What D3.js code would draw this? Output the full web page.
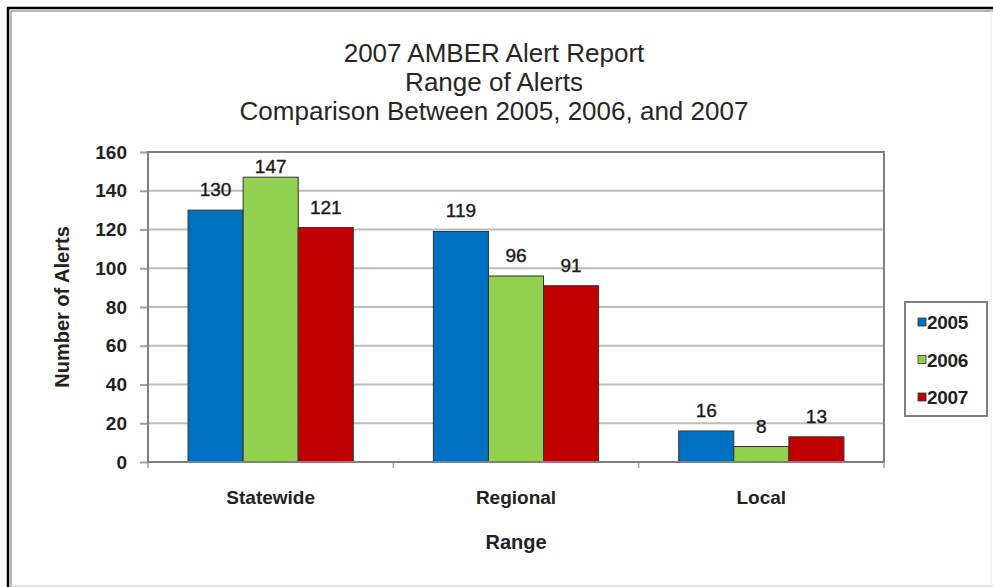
<!DOCTYPE html>
<html>
<head>
<meta charset="utf-8">
<script src="https://cdn.jsdelivr.net/npm/d3@7"></script>
<style>
  html, body { margin: 0; padding: 0; background: #fff; }
  svg { display: block; font-family: "Liberation Sans", Arial, sans-serif; }
</style>
</head>
<body>
<svg id="chart" width="993" height="587"></svg>
<script>
'use strict';

// ---- data ----
var titleLines = ["2007 AMBER Alert Report", "Range of Alerts", "Comparison Between 2005, 2006, and 2007"];
var categories = ["Statewide", "Regional", "Local"];
var years      = ["2005", "2006", "2007"];
var alerts2005 = [130, 119, 16];
var alerts2006 = [147, 96, 8];
var alerts2007 = [121, 91, 13];
var yTicks     = [0, 20, 40, 60, 80, 100, 120, 140, 160];
var colors     = ["#0070c0", "#92d050", "#c00000"];

var seriesValues = [alerts2005, alerts2006, alerts2007];

// ---- layout ----
var svg = d3.select("#chart");
var W = 993, H = 587;
var plot = { left: 148, top: 152, right: 884, bottom: 462 };

// frame (black outline with grey inner shade)
svg.append("rect").attr("x", 0).attr("y", 0).attr("width", W).attr("height", H).attr("fill", "#fff");
svg.append("path")
    .attr("d", "M8," + H + " L8,8 L" + W + ",8")
    .attr("fill", "none").attr("stroke", "#000").attr("stroke-width", 2.5);
svg.append("path")
    .attr("d", "M11," + H + " L11,11 L" + W + ",11")
    .attr("fill", "none").attr("stroke", "#a0a0a0").attr("stroke-width", 1.5);
svg.append("line")
    .attr("x1", 11).attr("x2", W).attr("y1", 586).attr("y2", 586)
    .attr("stroke", "#d8d8d8").attr("stroke-width", 1.5);
svg.append("line")
    .attr("x1", 991).attr("x2", 991).attr("y1", 11).attr("y2", H)
    .attr("stroke", "#ececec").attr("stroke-width", 1);

// title
svg.append("text")
    .attr("x", 494).attr("y", 62)
    .attr("text-anchor", "middle")
    .style("font-size", "26px")
    .attr("fill", "#262626")
    .selectAll("tspan")
    .data(titleLines)
    .join("tspan")
        .attr("x", 494)
        .attr("dy", function (d, i) { return i === 0 ? 0 : 29; })
        .text(function (d) { return d; });

// scales
var y = d3.scaleLinear().domain([0, 160]).range([plot.bottom, plot.top]);
var x0 = d3.scaleBand()
    .domain(categories)
    .range([plot.left, plot.right])
    .paddingInner(0.3265)
    .paddingOuter(0.1633);
var x1 = d3.scaleBand().domain(years).range([0, x0.bandwidth()]);

// gridlines
svg.append("g")
    .selectAll("line")
    .data(yTicks.filter(function (t) { return t > 0 && t < 160; }))
    .join("line")
        .attr("x1", plot.left).attr("x2", plot.right)
        .attr("y1", function (d) { return y(d); })
        .attr("y2", function (d) { return y(d); })
        .attr("stroke", "#bdbdbd").attr("stroke-width", 2);

// y axis
var yAxis = svg.append("g")
    .attr("transform", "translate(" + plot.left + ",0)")
    .call(d3.axisLeft(y).tickValues(yTicks).tickSize(8).tickPadding(13));
yAxis.select(".domain").remove();
yAxis.selectAll(".tick line").attr("stroke", "#a0a0a0").attr("stroke-width", 2);
yAxis.selectAll(".tick text")
    .style("font-size", "19px").style("font-weight", "bold")
    .attr("fill", "#222").attr("font-family", null);

// x axis (boundary ticks)
var boundaries = [plot.left].concat(categories.map(function (c) {
    return x0(c) + x0.bandwidth() + x0.step() * x0.paddingInner() / 2;
}));
boundaries[boundaries.length - 1] = plot.right;
svg.append("g")
    .selectAll("line")
    .data(boundaries)
    .join("line")
        .attr("x1", function (d) { return d; }).attr("x2", function (d) { return d; })
        .attr("y1", plot.bottom).attr("y2", plot.bottom + 6)
        .attr("stroke", "#a0a0a0").attr("stroke-width", 1.5);

svg.append("g")
    .selectAll("text")
    .data(categories)
    .join("text")
        .attr("x", function (d) { return x0(d) + x0.bandwidth() / 2; })
        .attr("y", 504)
        .attr("text-anchor", "middle")
        .style("font-size", "19px").style("font-weight", "bold")
        .attr("fill", "#222")
        .text(function (d) { return d; });

// bars
var groups = svg.append("g")
    .selectAll("g")
    .data(categories)
    .join("g")
        .attr("transform", function (d) { return "translate(" + x0(d) + ",0)"; });

var barData = function (c, ci) {
    return years.map(function (yr, si) { return { year: yr, si: si, value: seriesValues[si][ci] }; });
};

groups.selectAll("rect")
    .data(barData)
    .join("rect")
        .attr("x", function (d) { return x1(d.year); })
        .attr("y", function (d) { return y(d.value); })
        .attr("width", x1.bandwidth())
        .attr("height", function (d) { return y(0) - y(d.value); })
        .attr("fill", function (d) { return colors[d.si]; })
        .attr("stroke", "#333").attr("stroke-width", 1);

groups.selectAll("text")
    .data(barData)
    .join("text")
        .attr("x", function (d) { return x1(d.year) + x1.bandwidth() / 2; })
        .attr("y", function (d) { return Math.max(y(d.value) - 14, plot.top + 21); })
        .attr("text-anchor", "middle")
        .style("font-size", "19px")
        .attr("fill", "#1a1a1a")
        .attr("stroke", "#1a1a1a").attr("stroke-width", 0.4)
        .text(function (d) { return d.value; });

// plot border
svg.append("rect")
    .attr("x", plot.left).attr("y", plot.top)
    .attr("width", plot.right - plot.left).attr("height", plot.bottom - plot.top)
    .attr("fill", "none").attr("stroke", "#808080").attr("stroke-width", 2);

// axis titles
svg.append("text")
    .attr("transform", "translate(69," + ((plot.top + plot.bottom) / 2) + ") rotate(-90)")
    .attr("text-anchor", "middle")
    .style("font-size", "20px").style("font-weight", "bold")
    .attr("fill", "#222")
    .text("Number of Alerts");

svg.append("text")
    .attr("x", x0(categories[1]) + x0.bandwidth() / 2)
    .attr("y", 549)
    .attr("text-anchor", "middle")
    .style("font-size", "20px").style("font-weight", "bold")
    .attr("fill", "#222")
    .text("Range");

// legend
var legend = svg.append("g").attr("transform", "translate(905,302)");
legend.append("rect")
    .attr("width", 82).attr("height", 114)
    .attr("fill", "#fff").attr("stroke", "#808080").attr("stroke-width", 2);
var items = legend.selectAll("g.item")
    .data(years)
    .join("g")
        .attr("class", "item")
        .attr("transform", function (d, i) { return "translate(13," + (20 + i * 37.5) + ")"; });
items.append("rect")
    .attr("x", 0).attr("y", -4).attr("width", 8).attr("height", 8)
    .attr("fill", function (d, i) { return colors[i]; })
    .attr("stroke", "#333").attr("stroke-width", 0.8);
items.append("text")
    .attr("x", 9).attr("y", 7)
    .style("font-size", "19px").style("font-weight", "bold")
    .style("letter-spacing", "-0.3px")
    .attr("fill", "#222")
    .text(function (d) { return d; });
</script>
</body>
</html>
